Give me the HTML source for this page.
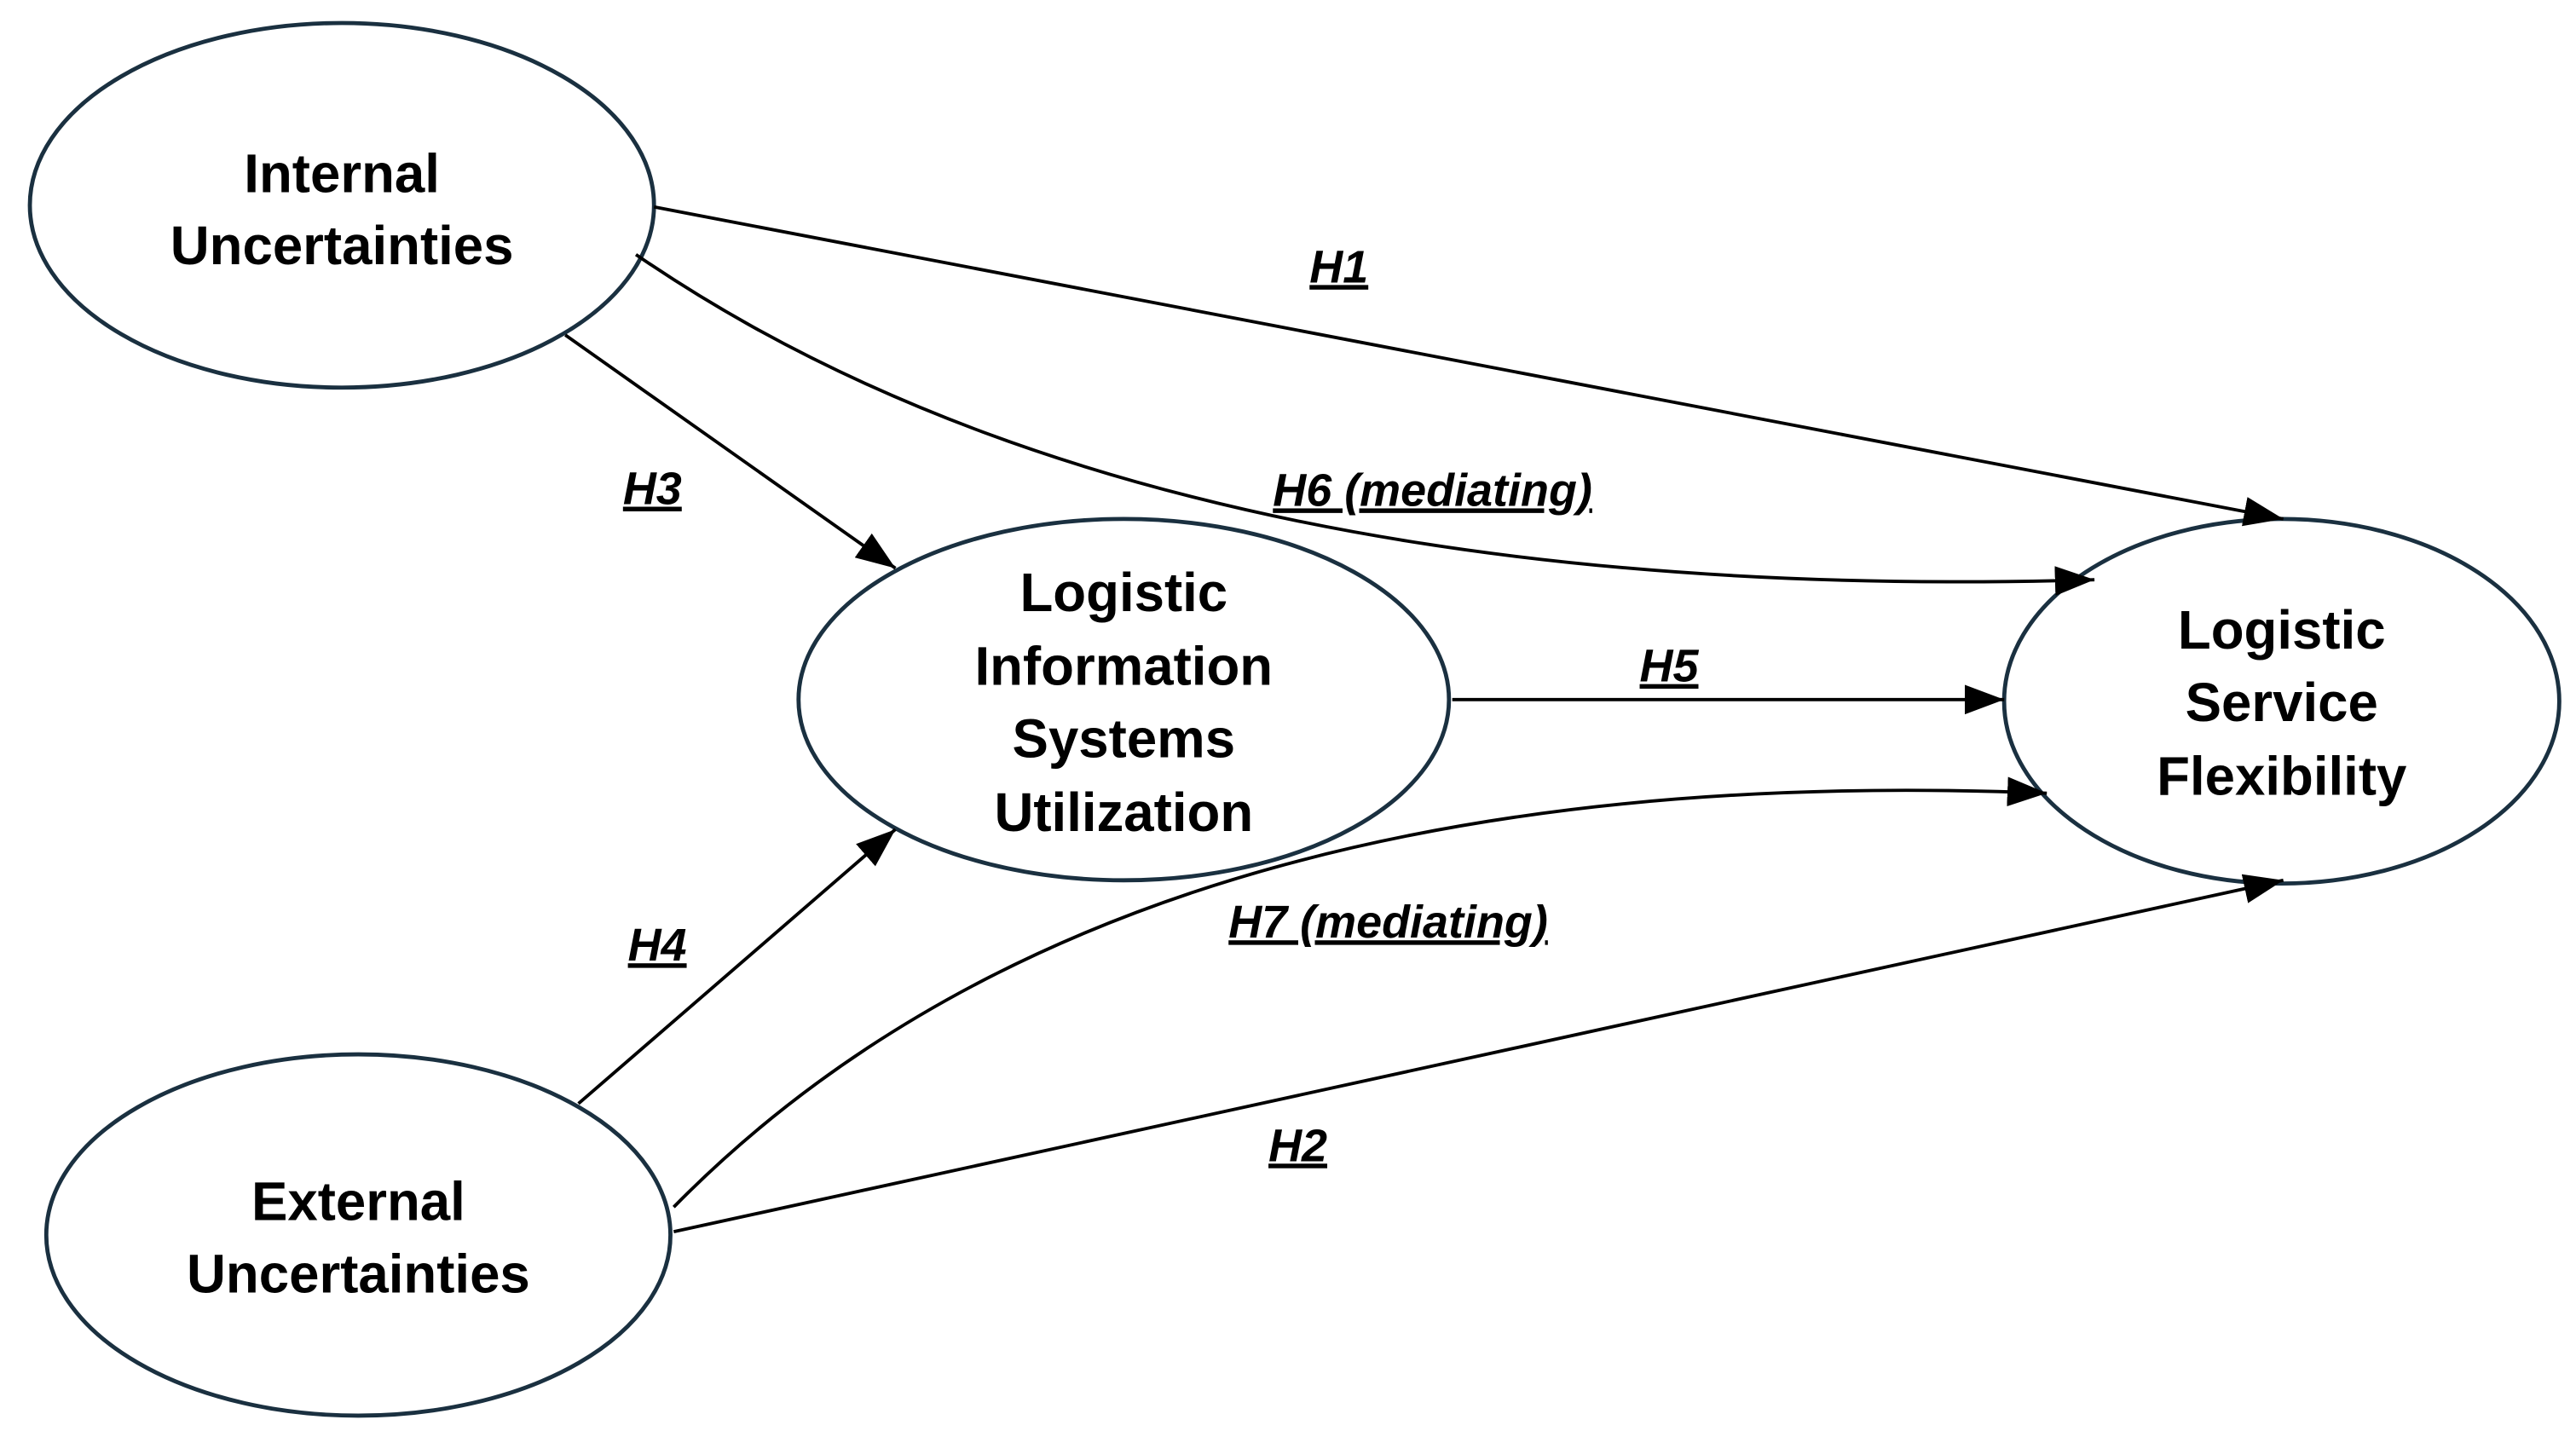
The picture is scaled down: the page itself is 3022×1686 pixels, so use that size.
<!DOCTYPE html>
<html><head><meta charset="utf-8"><style>html,body{margin:0;padding:0;background:#fff;width:3022px;height:1686px;overflow:hidden}svg{display:block}</style></head>
<body>
<svg width="3022" height="1686" viewBox="0 0 1568 875" xmlns="http://www.w3.org/2000/svg">
<defs><marker id="a" viewBox="0 0 10 10" refX="10" refY="5" markerWidth="10" markerHeight="8" markerUnits="userSpaceOnUse" orient="auto" preserveAspectRatio="none"><path d="M0,0 L10,5 L0,10 z" fill="#000"/></marker>
<marker id="b" viewBox="0 0 10 10" refX="10" refY="5" markerWidth="24" markerHeight="18" markerUnits="userSpaceOnUse" orient="auto" preserveAspectRatio="none"><path d="M0,0 L10,5 L0,10 z" fill="#000"/></marker></defs>
<g fill="#fff" stroke="#1a3040" stroke-width="2.5">
<ellipse cx="208" cy="125" rx="190" ry="111"/>
<ellipse cx="684" cy="426" rx="198" ry="110"/>
<ellipse cx="1389" cy="427" rx="169" ry="111"/>
<ellipse cx="218" cy="752" rx="190" ry="110"/>
</g>
<g stroke="#000" stroke-width="2" fill="none" marker-end="url(#b)">
<line x1="398" y1="126" x2="1390" y2="316"/>
<path d="M387,155 Q700,370 1275,353"/>
<line x1="344" y1="204" x2="545" y2="346"/>
<line x1="884" y1="426" x2="1220" y2="426"/>
<path d="M410,735 Q680,460 1246,483"/>
<line x1="352" y1="672" x2="545" y2="505"/>
<line x1="410" y1="750" x2="1390" y2="536"/>
</g>
<g font-family="Liberation Sans, sans-serif" font-weight="bold" font-size="33" text-anchor="middle" fill="#000">
<text x="208" y="117">Internal</text><text x="208" y="161">Uncertainties</text>
<text x="684" y="372">Logistic</text><text x="684" y="417">Information</text><text x="684" y="461">Systems</text><text x="684" y="506">Utilization</text>
<text x="1389" y="395">Logistic</text><text x="1389" y="439">Service</text><text x="1389" y="484">Flexibility</text>
<text x="218" y="743">External</text><text x="218" y="787">Uncertainties</text>
</g>
<g font-family="Liberation Sans, sans-serif" font-weight="bold" font-style="italic" font-size="28" text-decoration="underline" text-anchor="middle" fill="#000">
<text x="815" y="172">H1</text>
<text x="872" y="308">H6 (mediating)</text>
<text x="397" y="307">H3</text>
<text x="1016" y="415">H5</text>
<text x="845" y="571">H7 (mediating)</text>
<text x="400" y="585">H4</text>
<text x="790" y="707">H2</text>
</g>
</svg>
</body></html>
